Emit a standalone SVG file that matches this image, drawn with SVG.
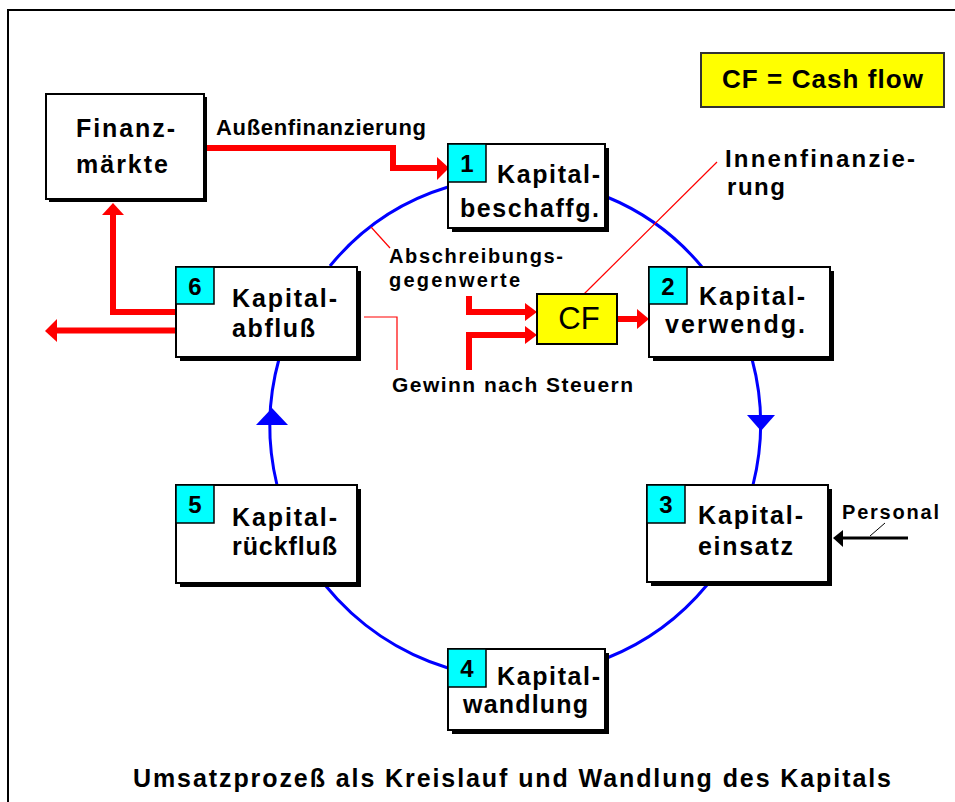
<svg xmlns="http://www.w3.org/2000/svg" width="955" height="802" viewBox="0 0 955 802">
  <style>
    .t { font-family: "Liberation Sans", Arial, sans-serif; fill: #000; }
    .box { fill: #fff; stroke: #000; stroke-width: 2; }
    .sh { fill: #000; }
    .num { fill: #00ffff; stroke: #000; stroke-width: 1.5; }
    .lbl { font-size: 25px; font-weight: bold; }
    .nr { font-size: 24px; font-weight: bold; text-anchor: middle; }
    .red { fill: none; stroke: #ff0000; stroke-width: 6; }
    .thin { fill: none; stroke: #ff0000; stroke-width: 1.2; }
    .blue { fill: none; stroke: #0000ff; stroke-width: 3; }
    .small { font-size: 20px; font-weight: bold; }
  </style>

  <!-- frame -->
  <path d="M8,802 V10 H955" fill="none" stroke="#000" stroke-width="2"/>

  <!-- connectors -->
  <g id="connectors">
    <!-- capital circulation -->
    <path class="blue" d="M330,266 A243,243 0 0 1 448,187"/>
    <path class="blue" d="M607,197 A243,243 0 0 1 702,267"/>
    <path class="blue" d="M752,359 A250,250 0 0 1 753,485"/>
    <path class="blue" d="M707,585 A250,250 0 0 1 607,658"/>
    <path class="blue" d="M448,668 A255,255 0 0 1 325,585"/>
    <path class="blue" d="M277,485 A250,250 0 0 1 279,359"/>
    <polygon fill="#0000ff" points="747,415 775,415 761,431"/>
    <polygon fill="#0000ff" points="256,425 288,425 272,408"/>

    <!-- external financing -->
    <path class="red" d="M205,148 H393 V168 H438"/>
    <polygon fill="#ff0000" points="437,157 449,168 437,180"/>
    <!-- outflow to markets and out -->
    <path class="red" d="M176,312 H113 V213"/>
    <polygon fill="#ff0000" points="102,215 113,203 124,215"/>
    <path class="red" d="M176,330.5 H56"/>
    <polygon fill="#ff0000" points="57,319 45,331 57,342"/>
    <!-- inputs to CF -->
    <path class="red" d="M469,296 V312 H527"/>
    <polygon fill="#ff0000" points="525,303 537,312 525,321"/>
    <path class="red" d="M469,370 V335 H527"/>
    <polygon fill="#ff0000" points="525,326 537,335 525,344"/>
    <path class="red" d="M617,319 H638"/>
    <polygon fill="#ff0000" points="637,309 649,319 637,329"/>

    <!-- leader lines -->
    <line class="thin" x1="371" y1="227" x2="390" y2="248"/>
    <polyline class="thin" points="364,317 397,317 397,370"/>
    <line class="thin" x1="717" y1="162" x2="583" y2="295"/>

    <!-- staff input -->
    <line x1="908" y1="538" x2="840" y2="538" stroke="#000" stroke-width="3"/>
    <polygon fill="#000" points="843,530 833,538 843,547"/>
    <line x1="885" y1="523" x2="870" y2="536" stroke="#000" stroke-width="1"/>
  </g>

  <!-- labels on connectors -->
  <g id="labels">
    <text class="t small" x="216" y="135" textLength="210" lengthAdjust="spacing" style="font-size:22px">Außenfinanzierung</text>
    <text class="t small" x="389" y="263" textLength="174" lengthAdjust="spacing">Abschreibungs-</text>
    <text class="t small" x="389" y="287" textLength="131" lengthAdjust="spacing">gegenwerte</text>
    <text class="t small" x="392" y="392" textLength="241" lengthAdjust="spacing" style="font-size:21px">Gewinn nach Steuern</text>
    <text class="t lbl" x="725" y="167" textLength="190" lengthAdjust="spacing" style="font-size:24px">Innenfinanzie-</text>
    <text class="t lbl" x="727" y="195" textLength="58" lengthAdjust="spacing" style="font-size:24px">rung</text>
    <text class="t small" x="842" y="519" textLength="97" lengthAdjust="spacing">Personal</text>
  </g>

  <!-- legend -->
  <g id="legend">
    <rect x="701" y="53" width="243" height="54" fill="#ffff00" stroke="#333" stroke-width="2"/>
    <text class="t" x="722" y="88" textLength="201" lengthAdjust="spacing" style="font-size:26px;font-weight:bold">CF = Cash flow</text>
  </g>

  <!-- financial markets -->
  <g id="finanzmaerkte">
    <rect class="sh" x="49" y="97" width="158" height="105"/>
    <rect class="box" x="46" y="94" width="158" height="105"/>
    <text class="t lbl" x="76" y="137" textLength="99" lengthAdjust="spacing">Finanz-</text>
    <text class="t lbl" x="76" y="173" textLength="92" lengthAdjust="spacing">märkte</text>
  </g>

  <!-- cash flow -->
  <g id="cf">
    <rect x="537" y="294" width="80" height="50" fill="#ffff00" stroke="#000" stroke-width="2"/>
    <text class="t" x="579" y="329" text-anchor="middle" style="font-size:31px">CF</text>
  </g>

  <!-- 1 -->
  <g id="kapitalbeschaffung">
    <rect class="sh" x="452" y="148" width="157" height="84"/>
    <rect class="box" x="448" y="144" width="157" height="84"/>
    <rect class="num" x="448" y="144" width="38" height="38"/>
    <text class="t nr" x="467" y="172">1</text>
    <text class="t lbl" x="497" y="183" textLength="103" lengthAdjust="spacing">Kapital-</text>
    <text class="t lbl" x="460" y="217" textLength="139" lengthAdjust="spacing">beschaffg.</text>
  </g>

  <!-- 2 -->
  <g id="kapitalverwendung">
    <rect class="sh" x="653" y="271" width="181" height="90"/>
    <rect class="box" x="649" y="267" width="181" height="90"/>
    <rect class="num" x="649" y="267" width="38" height="37"/>
    <text class="t nr" x="668" y="295">2</text>
    <text class="t lbl" x="699" y="305" textLength="106" lengthAdjust="spacing">Kapital-</text>
    <text class="t lbl" x="665" y="333" textLength="140" lengthAdjust="spacing">verwendg.</text>
  </g>

  <!-- 3 -->
  <g id="kapitaleinsatz">
    <rect class="sh" x="651" y="489" width="181" height="97"/>
    <rect class="box" x="647" y="485" width="181" height="97"/>
    <rect class="num" x="647" y="485" width="38" height="38"/>
    <text class="t nr" x="666" y="513">3</text>
    <text class="t lbl" x="698" y="524" textLength="105" lengthAdjust="spacing">Kapital-</text>
    <text class="t lbl" x="698" y="555" textLength="95" lengthAdjust="spacing">einsatz</text>
  </g>

  <!-- 4 -->
  <g id="kapitalwandlung">
    <rect class="sh" x="452" y="653" width="157" height="81"/>
    <rect class="box" x="448" y="649" width="157" height="81"/>
    <rect class="num" x="448" y="649" width="38" height="38"/>
    <text class="t nr" x="467" y="677">4</text>
    <text class="t lbl" x="497" y="685" textLength="103" lengthAdjust="spacing">Kapital-</text>
    <text class="t lbl" x="463" y="713" textLength="125" lengthAdjust="spacing">wandlung</text>
  </g>

  <!-- 5 -->
  <g id="kapitalrueckfluss">
    <rect class="sh" x="180" y="489" width="181" height="98"/>
    <rect class="box" x="176" y="485" width="181" height="98"/>
    <rect class="num" x="176" y="485" width="38" height="38"/>
    <text class="t nr" x="195" y="513">5</text>
    <text class="t lbl" x="232" y="526" textLength="105" lengthAdjust="spacing">Kapital-</text>
    <text class="t lbl" x="232" y="555" textLength="105" lengthAdjust="spacing">rückfluß</text>
  </g>

  <!-- 6 -->
  <g id="kapitalabfluss">
    <rect class="sh" x="180" y="271" width="181" height="90"/>
    <rect class="box" x="176" y="267" width="181" height="90"/>
    <rect class="num" x="176" y="267" width="38" height="37"/>
    <text class="t nr" x="195" y="295">6</text>
    <text class="t lbl" x="232" y="307" textLength="105" lengthAdjust="spacing">Kapital-</text>
    <text class="t lbl" x="232" y="337" textLength="83" lengthAdjust="spacing">abfluß</text>
  </g>

  <!-- caption -->
  <text class="t" x="133" y="787" textLength="758" lengthAdjust="spacing" style="font-size:25px;font-weight:bold">Umsatzprozeß als Kreislauf und Wandlung des Kapitals</text>
</svg>
